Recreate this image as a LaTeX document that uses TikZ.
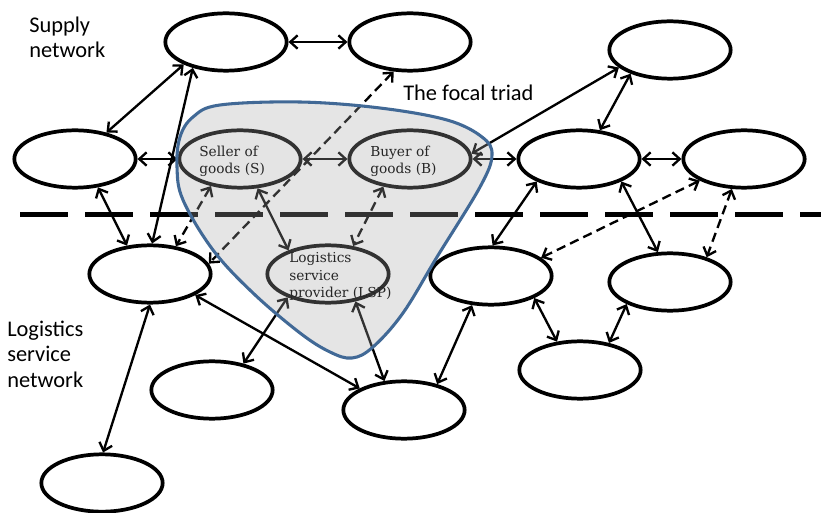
\documentclass[tikz,border=0pt]{standalone}
\usepackage{fontspec}
\setmainfont{Carlito}
\newfontfamily\labelserif{DejaVu Serif}
\usetikzlibrary{arrows.meta, shapes.geometric}
\definecolor{triadblue}{RGB}{65,105,150}

\begin{document}
\begin{tikzpicture}[x=0.75pt, y=-0.75pt,
  actor/.style={ellipse, draw=black, line width=2.8pt, fill=white,
    minimum width=91pt, minimum height=43pt, inner sep=0pt},
  link/.style={<->, >={Straight Barb[length=5.5pt,width=10pt]}, line width=1.75pt},
  dlink/.style={link, dash pattern=on 7pt off 4pt},
  netlabel/.style={font=\fontsize{16.8}{19}\selectfont, align=left,
    anchor=base west, inner sep=0pt},
  triadlabel/.style={font=\labelserif\fontsize{10.3}{12.75}\selectfont, align=left,
    anchor=base west, inner sep=0pt, text=black!85},
  divider/.style={line width=3.75pt, dash pattern=on 36pt off 12.75pt},
]
\useasboundingbox (0,0) rectangle (821,513);

% boundary between the supply network and the logistics service network
\coordinate (sepL) at (20,215);
\coordinate (sepR) at (821,215);
\draw[divider] (sepL) -- (sepR);

% actors
\node[actor] (n1)  at (226,42)  {};
\node[actor] (n2)  at (410,42)  {};
\node[actor] (n3)  at (670,50)  {};
\node[actor] (n4)  at (75,159)  {};
\node[actor] (s)   at (240,159) {};
\node[actor] (b)   at (410,159) {};
\node[actor] (n7)  at (579,159) {};
\node[actor] (n8)  at (744,159) {};
\node[actor] (lsp) at (328,274) {};
\node[actor] (n10) at (150,274) {};
\node[actor] (n11) at (491,276) {};
\node[actor] (n12) at (670,282) {};
\node[actor] (n13) at (580,370) {};
\node[actor] (n14) at (212,390) {};
\node[actor] (n15) at (404,410) {};
\node[actor] (n16) at (102,483) {};

% relationships
\draw[link] (n1.east) -- (n2.west);
\draw[link] (n1.208) -- (n4.40);
\draw[link] (n1.218) -- (n10.86);
\draw[link] (n4.east) -- (s.west);
\draw[link] (s.east) -- (b.west);
\draw[link] (n3.199) -- (b.5);
\draw[link] (b.east) -- (n7.west);
\draw[link] (n3.211) -- (n7.54);
\draw[link] (n7.east) -- (n8.west);
\draw[link] (n4.309) -- (n10.129);
\draw[link] (s.301) -- (lsp.149);
\draw[link] (n7.208) -- (n11.87);
\draw[link] (n7.332) -- (n12.112);
\draw[link] (n10.270) -- (n16.88);
\draw[link] (n10.335) -- (n15.154);
\draw[link] (lsp.210) -- (n14.40);
\draw[link] (lsp.315) -- (n15.124);
\draw[link] (n11.237) -- (n15.38);
\draw[link] (n11.333) -- (n13.129);
\draw[link] (n12.207) -- (n13.43);

% indirect relationships
\draw[dlink] (n2.241) -- (n10.10);
\draw[dlink] (s.223) -- (n10.47);
\draw[dlink] (b.226) -- (lsp.48);
\draw[dlink] (n8.206) -- (n11.20);
\draw[dlink] (n8.248) -- (n12.34);

% the focal triad region
\def\triadregion{plot[smooth cycle, tension=0.6] coordinates {
  (177,167) (180,137) (193,117) (220,105) (300,102) (380,108) (447,120)
  (482,137) (492,155) (480,187) (437,257) (403,313) (373,347) (352,358)
  (330,352) (300,333) (253,293) (213,250) (183,200)}}
\fill[black!34, fill opacity=0.3] \triadregion;
\draw[triadblue, line width=2.3pt] \triadregion;

% labels of the triad members (anchored at the baseline of the last line)
\node[triadlabel] (stext) at (199,174) {Seller of\\goods (S)};
\node[triadlabel] (btext) at (370,174) {Buyer of\\goods (B)};
\node[triadlabel] (ltext) at (289,297) {Logistics\\service\\provider (LSP)};

% network captions
\node[netlabel] (supply) at (29,58) {Supply\\network};
\node[netlabel] (focal) at (403,101) {The focal triad};
\node[netlabel] (lsn) at (7,387) {Logistics\\service\\network};
\end{tikzpicture}
\end{document}
